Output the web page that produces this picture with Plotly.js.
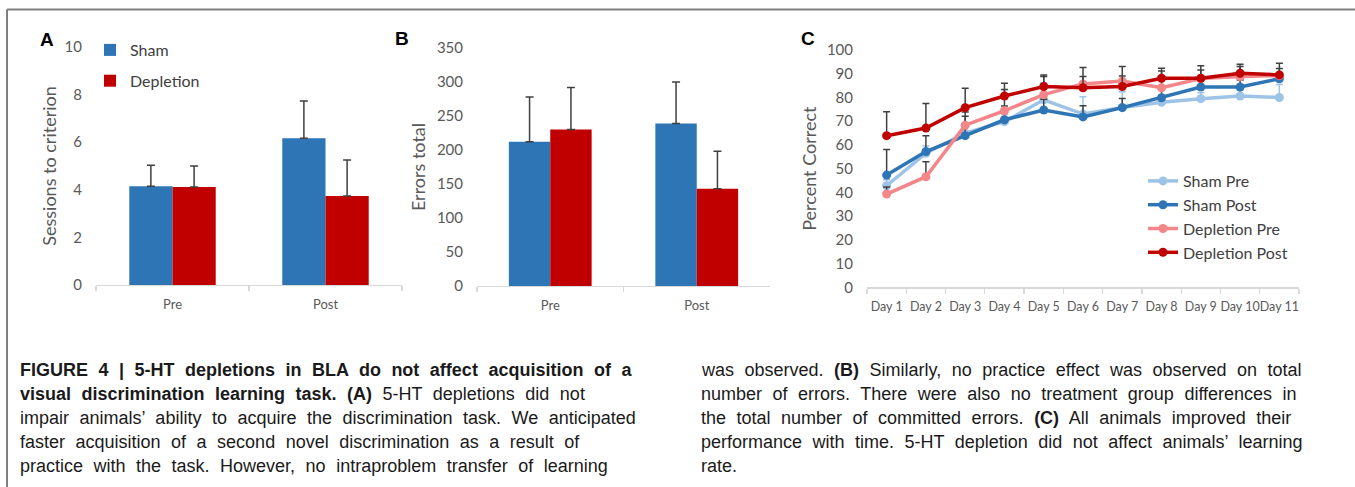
<!DOCTYPE html>
<html>
<head>
<meta charset="utf-8">
<script src="https://cdn.plot.ly/plotly-3.0.1.min.js"></script>
<style>
  html, body { margin: 0; padding: 0; background: #ffffff; }
  #chart { width: 1355px; height: 487px; }
  #chart .annotation.caption text { word-spacing: 5.5px; }
</style>
</head>
<body>
<div id="chart"></div>
<script>
// ---------- data ----------
const barCats = ['Pre', 'Post'];
const groupNames = ['Sham', 'Depletion'];

// Panel A: sessions to criterion
const shamSessions = [4.15, 6.17];
const shamSessionsErr = [0.88, 1.56];
const deplSessions = [4.12, 3.74];
const deplSessionsErr = [0.88, 1.51];

// Panel B: errors total
const shamErrors = [212, 239];
const shamErrorsErr = [66, 61];
const deplErrors = [230, 143];
const deplErrorsErr = [62, 55];

// Panel C: percent correct
const days = ['Day 1', 'Day 2', 'Day 3', 'Day 4', 'Day 5', 'Day 6', 'Day 7', 'Day 8', 'Day 9', 'Day 10', 'Day 11'];
const lineNames = ['Sham Pre', 'Sham Post', 'Depletion Pre', 'Depletion Post'];
const shamPre = [42.8, 56.5, 65.0, 69.8, 79.0, 73.0, 75.8, 78.0, 79.5, 80.6, 80.0];
const shamPreErr = [2.5, 3.0, 4.0, 3.0, 7.2, 7.3, 6.6, 3.0, 2.5, 2.5, 5.5];
const shamPost = [47.3, 57.2, 63.9, 70.6, 74.7, 71.8, 75.7, 79.9, 84.4, 84.4, 87.9];
const shamPostErr = [10.8, 6.7, 8.2, 5.8, 4.5, 4.7, 3.9, 4.5, 3.5, 3.0, 2.5];
const deplPre = [39.3, 46.6, 68.3, 74.4, 81.2, 85.7, 86.9, 84.1, 88.0, 88.8, 89.2];
const deplPreErr = [3.0, 6.3, 5.6, 9.0, 7.6, 3.1, 2.1, 7.1, 3.6, 4.2, 3.0];
const deplPost = [63.9, 67.1, 75.7, 80.6, 84.6, 84.1, 84.6, 88.1, 88.1, 90.2, 89.5];
const deplPostErr = [10.1, 10.4, 8.2, 5.4, 4.9, 8.5, 8.4, 4.2, 5.3, 3.8, 4.9];

// Caption lines
const captionLeft = [
  '<b>FIGURE 4 | 5-HT depletions in BLA do not affect acquisition of a</b>',
  '<b>visual discrimination learning task. (A)</b> 5-HT depletions did not',
  'impair animals’ ability to acquire the discrimination task. We anticipated',
  'faster acquisition of a second novel discrimination as a result of',
  'practice with the task. However, no intraproblem transfer of learning'
];
const captionRight = [
  'was observed. <b>(B)</b> Similarly, no practice effect was observed on total',
  'number of errors. There were also no treatment group differences in',
  'the total number of committed errors. <b>(C)</b> All animals improved their',
  'performance with time. 5-HT depletion did not affect animals’ learning',
  'rate.'
];
const panelLabels = ['A', 'B', 'C'];

// ---------- styling ----------
const W = 1355, H = 487;
const px = v => v / W;
const py = v => 1 - v / H;
const FONT = 'Lato, "Open Sans", sans-serif';
const CAPFONT = '"Liberation Sans", Arial, sans-serif';
const BLUE = '#2e75b6', RED = '#c00000';
const LBLUE = '#9dc3e6', PINK = '#f4868a';
const ERRC = '#404040';
const zeros = n => new Array(n).fill(0);

function errY(arr, color, w) {
  return { type: 'data', symmetric: false, array: arr, arrayminus: zeros(arr.length),
           color: color, thickness: 1.5, width: w };
}

const traces = [];
// Panel A
traces.push({ type: 'bar', x: barCats, y: shamSessions, name: groupNames[0], marker: { color: BLUE },
  error_y: errY(shamSessionsErr, ERRC, 4), xaxis: 'x', yaxis: 'y', legend: 'legend', legendgroup: 'a1' });
traces.push({ type: 'bar', x: barCats, y: deplSessions, name: groupNames[1], marker: { color: RED },
  error_y: errY(deplSessionsErr, ERRC, 4), xaxis: 'x', yaxis: 'y', legend: 'legend', legendgroup: 'a2' });
// Panel B
traces.push({ type: 'bar', x: barCats, y: shamErrors, name: groupNames[0], marker: { color: BLUE },
  error_y: errY(shamErrorsErr, ERRC, 4), xaxis: 'x2', yaxis: 'y2', showlegend: false });
traces.push({ type: 'bar', x: barCats, y: deplErrors, name: groupNames[1], marker: { color: RED },
  error_y: errY(deplErrorsErr, ERRC, 4), xaxis: 'x2', yaxis: 'y2', showlegend: false });
// Panel C
const lineSeries = [
  [shamPre, shamPreErr, LBLUE, LBLUE],
  [shamPost, shamPostErr, BLUE, ERRC],
  [deplPre, deplPreErr, PINK, ERRC],
  [deplPost, deplPostErr, RED, ERRC]
];
lineSeries.forEach((s, i) => {
  traces.push({ type: 'scatter', mode: 'lines+markers', x: days, y: s[0], name: lineNames[i],
    line: { color: s[2], width: 3.5 }, marker: { color: s[2], size: 9 },
    error_y: errY(s[1], s[3], 3.5), xaxis: 'x3', yaxis: 'y3', legend: 'legend2' });
});

const xBase = {
  type: 'category', showline: true, linecolor: '#d9d9d9', linewidth: 1.3,
  ticks: 'outside', tickson: 'boundaries', tickcolor: '#d9d9d9', ticklen: 5, tickwidth: 1.3,
  showgrid: false, zeroline: false, tickangle: 0, ticklabelstandoff: 7,
  tickfont: { family: FONT, size: 13, color: '#595959' }
};
const yBase = {
  showline: false, showgrid: false, zeroline: false, ticks: '', ticklabelstandoff: 13,
  tickfont: { family: FONT, size: 15, color: '#595959' }
};
const titleFont = { family: FONT, size: 18, color: '#595959' };

const annotations = [];
[[47, 39], [402, 38], [808, 38]].forEach((p, i) => {
  annotations.push({ xref: 'paper', yref: 'paper', x: px(p[0]), y: py(p[1]), xanchor: 'center', yanchor: 'middle',
    text: '<b>' + panelLabels[i] + '</b>', showarrow: false,
    font: { family: CAPFONT, size: 19, color: '#000' } });
});
const capY = [370, 394, 418, 442, 466];
captionLeft.forEach((t, i) => {
  annotations.push({ xref: 'paper', yref: 'paper', x: px(18), y: py(capY[i]), xanchor: 'left', yanchor: 'middle',
    text: t, showarrow: false, align: 'left', name: 'caption',
    font: { family: CAPFONT, size: 18, color: '#1a1a1a' } });
});
captionRight.forEach((t, i) => {
  annotations.push({ xref: 'paper', yref: 'paper', x: px(699), y: py(capY[i]), xanchor: 'left', yanchor: 'middle',
    text: t, showarrow: false, align: 'left', name: 'caption',
    font: { family: CAPFONT, size: 18, color: '#1a1a1a' } });
});

const layout = {
  width: W, height: H,
  margin: { l: 0, r: 0, t: 0, b: 0 },
  paper_bgcolor: '#ffffff', plot_bgcolor: 'rgba(0,0,0,0)',
  barmode: 'group', bargap: 0.435, bargroupgap: 0,
  font: { family: FONT, color: '#595959' },
  xaxis: Object.assign({}, xBase, { domain: [px(96), px(402)], anchor: 'y', range: [-0.5, 1.5] }),
  yaxis: Object.assign({}, yBase, { domain: [1 - 285 / H, 1 - 47 / H], anchor: 'x', range: [0, 10], dtick: 2,
    title: { text: 'Sessions to criterion', font: titleFont, standoff: 3 } }),
  xaxis2: Object.assign({}, xBase, { domain: [px(477), px(770)], anchor: 'y2', range: [-0.5, 1.5] }),
  yaxis2: Object.assign({}, yBase, { domain: [1 - 286 / H, 1 - 48 / H], anchor: 'x2', range: [0, 350], dtick: 50,
    title: { text: 'Errors total', font: titleFont, standoff: 6 } }),
  xaxis3: Object.assign({}, xBase, { domain: [px(867), px(1299)], anchor: 'y3', range: [-0.5, 10.5],
    tickfont: { family: FONT, size: 12.5, color: '#595959' }, ticklabelstandoff: 7 }),
  yaxis3: Object.assign({}, yBase, { domain: [1 - 287.3 / H, 1 - 50 / H], anchor: 'x3', range: [0, 100], dtick: 10,
    title: { text: 'Percent Correct', font: titleFont, standoff: 5 } }),
  showlegend: true,
  legend: { x: px(90), y: py(33), xanchor: 'left', yanchor: 'top', bgcolor: 'rgba(0,0,0,0)',
    font: { family: FONT, size: 16, color: '#404040' }, tracegroupgap: 7, traceorder: 'grouped' },
  legend2: { x: px(1143), y: py(164), xanchor: 'left', yanchor: 'top', bgcolor: 'rgba(0,0,0,0)',
    font: { family: FONT, size: 16, color: '#404040' }, traceorder: 'normal' },
  annotations: annotations,
  shapes: [
    { type: 'line', xref: 'paper', yref: 'paper', x0: px(7), x1: 1, y0: py(9.5), y1: py(9.5),
      line: { color: '#808080', width: 2 } },
    { type: 'line', xref: 'paper', yref: 'paper', x0: px(7), x1: px(7), y0: py(9.5), y1: 0,
      line: { color: '#808080', width: 2 } }
  ]
};

Plotly.newPlot('chart', traces, layout, { staticPlot: true, displayModeBar: false }).then(gd => {
  // widen word spacing of caption lines to resemble the printed figure caption
  gd.querySelectorAll('.annotation').forEach((el, i) => {
    if (i >= panelLabels.length) el.classList.add('caption');
  });
});
</script>
</body>
</html>
